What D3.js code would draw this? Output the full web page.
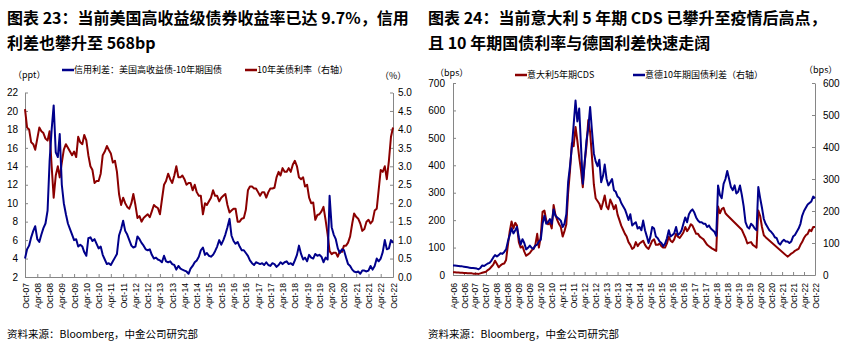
<!DOCTYPE html>
<html><head><meta charset="utf-8">
<script src="https://cdn.jsdelivr.net/npm/d3@7"></script>
<style>
body{margin:0;background:#fff;}
svg{display:block;font-family:"Liberation Sans",Arial,sans-serif;}
.title{font-family:"Noto Sans CJK SC",sans-serif;font-weight:700;font-size:16px;fill:#000;}
.leg{font-family:"Noto Sans CJK SC",sans-serif;font-size:9px;fill:#000;}
.src{font-family:"Noto Sans CJK SC",sans-serif;font-size:10.5px;fill:#000;}
.axis path,.axis line{stroke:#868686;}
.axis text{fill:#000;}
</style></head><body>
<svg id="c" width="853" height="350"></svg>
<script>
// ---------- Chart 23 data (monthly, Oct-07 .. Oct-22) ----------
const usTickLabels = ["Oct-07","Apr-08","Oct-08","Apr-09","Oct-09","Apr-10","Oct-10","Apr-11","Oct-11","Apr-12","Oct-12","Apr-13","Oct-13","Apr-14","Oct-14","Apr-15","Oct-15","Apr-16","Oct-16","Apr-17","Oct-17","Apr-18","Oct-18","Apr-19","Oct-19","Apr-20","Oct-20","Apr-21","Oct-21","Apr-22","Oct-22"];
const usLeftTicks = [2,4,6,8,10,12,14,16,18,20,22];
const usRightTicks = [0,0.5,1,1.5,2,2.5,3,3.5,4,4.5,5];
// credit spread: US HY yield - 10Y UST (ppt), left axis
const usSpread = [4.0,5.0,5.4,
6.3,7.0,7.5,6.1,5.8,6.6,7.3,7.8,9.2,14.5,18.0,20.6,
15.5,15.0,17.5,12.0,10.0,8.8,7.8,7.2,6.6,6.0,6.1,5.3,
5.5,5.3,4.7,4.3,6.2,6.3,5.9,6.1,5.6,5.1,5.3,4.4,
3.9,3.4,3.5,3.3,3.7,4.1,4.5,6.5,7.2,8.1,7.0,6.6,
6.0,5.4,5.2,5.3,6.4,6.1,5.7,5.4,5.0,4.9,5.0,4.4,
4.0,4.1,3.9,3.8,3.6,4.3,3.7,3.6,3.7,3.4,3.3,2.8,
3.2,2.9,2.8,2.7,2.6,2.35,2.9,3.2,3.6,3.8,4.2,4.9,
5.2,4.4,4.6,4.3,4.2,4.4,4.8,5.3,6.0,5.5,6.0,6.6,
7.4,8.3,6.5,5.9,5.6,5.8,5.3,4.9,4.9,4.6,4.3,3.8,
3.5,3.3,3.6,3.5,3.4,3.5,3.3,3.6,3.3,3.2,3.5,3.4,
3.1,3.3,3.6,3.4,3.6,3.7,3.4,3.5,3.3,3.8,4.4,5.4,
4.5,3.9,4.1,3.7,4.4,4.1,4.0,4.5,4.3,4.4,4.2,3.6,
4.1,3.9,10.8,7.4,6.6,6.1,5.1,4.6,5.0,4.9,4.1,3.4,
3.2,2.8,2.6,2.5,2.6,2.35,2.7,2.7,2.6,2.7,3.2,2.8,
3.2,4.0,3.7,4.0,4.7,6.0,5.0,5.1,6.0,5.7];
// 10Y UST yield (%), right axis
const us10y = [4.55,4.05,4.0,
3.65,3.6,3.45,3.75,4.05,3.95,3.9,3.75,3.7,3.95,3.0,2.15,
2.75,3.0,2.7,3.1,3.45,3.6,3.5,3.4,3.3,3.4,3.25,3.8,
3.65,3.6,3.85,3.7,3.3,3.0,2.9,2.55,2.6,2.6,2.8,3.3,
3.4,3.55,3.45,3.35,3.1,3.15,2.85,2.25,1.95,2.15,2.0,1.9,
1.85,2.0,2.25,1.95,1.6,1.65,1.5,1.6,1.65,1.7,1.62,1.78,
1.95,1.9,1.87,1.7,2.1,2.5,2.6,2.8,2.65,2.55,2.75,3.0,
2.7,2.7,2.75,2.65,2.5,2.55,2.55,2.35,2.5,2.3,2.2,2.2,
1.7,2.0,1.95,2.05,2.15,2.35,2.2,2.2,2.05,2.15,2.2,2.25,
1.95,1.75,1.8,1.85,1.85,1.5,1.5,1.58,1.6,1.82,2.35,2.45,
2.45,2.4,2.4,2.3,2.2,2.3,2.3,2.15,2.3,2.4,2.4,2.42,
2.7,2.85,2.75,2.95,2.85,2.85,2.95,2.85,3.05,3.15,3.0,2.7,
2.65,2.7,2.45,2.5,2.15,2.0,2.02,1.55,1.68,1.7,1.78,1.9,
1.55,1.15,0.7,0.62,0.66,0.66,0.55,0.7,0.68,0.85,0.85,0.93,
1.1,1.45,1.72,1.63,1.58,1.45,1.25,1.3,1.5,1.55,1.45,1.52,
1.8,1.85,2.35,2.9,2.85,3.0,2.65,3.15,3.8,4.05];

// ---------- Chart 24 data (monthly, Apr-06 .. Oct-22) ----------
const itTickLabels = ["Apr-06","Oct-06","Apr-07","Oct-07","Apr-08","Oct-08","Apr-09","Oct-09","Apr-10","Oct-10","Apr-11","Oct-11","Apr-12","Oct-12","Apr-13","Oct-13","Apr-14","Oct-14","Apr-15","Oct-15","Apr-16","Oct-16","Apr-17","Oct-17","Apr-18","Oct-18","Apr-19","Oct-19","Apr-20","Oct-20","Apr-21","Oct-21","Apr-22","Oct-22"];
const itLeftTicks = [0,100,200,300,400,500,600,700];
const itRightTicks = [0,100,200,300,400,500,600];
// Italy 5Y CDS (bps), left axis; null = no data (line bridges straight)
const itCds = [10,10,9,9,8,8,7,7,6,
6,6,5,5,5,4,6,8,10,12,18,22,
30,38,52,40,28,35,40,42,55,110,160,195,
170,190,180,120,100,105,85,70,75,80,90,95,
110,150,100,140,230,235,200,185,190,170,255,220,
200,185,175,140,160,185,300,380,480,470,540,490,
430,380,320,410,470,565,520,430,330,280,270,260,
240,265,290,250,240,275,260,240,255,220,200,180,
165,150,140,120,110,95,100,120,105,115,120,125,
110,100,95,110,125,130,110,110,115,105,100,100,
115,140,125,120,130,150,140,135,145,155,175,160,
170,185,180,165,150,150,140,135,130,120,110,105,
100,95,92,88,250,225,240,245,225,218,null,null,
null,null,null,null,null,165,150,135,115,118,120,110,
105,100,235,215,175,145,138,null,null,null,null,null,
null,null,null,null,null,null,67,72,78,82,88,92,
95,110,120,135,145,150,165,160,175,175];
// Italy-Germany 10Y spread (bps), right axis
const itSpread = [30,30,29,28,27,27,26,25,24,
23,22,22,21,20,18,22,30,28,32,36,38,
45,55,62,58,62,68,66,72,80,105,125,146,
130,140,150,118,95,112,100,80,85,92,85,82,
92,95,105,110,160,185,160,165,175,160,205,185,
180,175,170,150,160,190,290,340,400,470,545,480,
520,400,285,350,420,460,525,450,380,355,340,360,
290,310,345,300,280,290,300,265,260,245,240,225,
215,205,190,172,190,155,160,165,145,150,140,170,
140,120,100,120,150,145,120,115,105,100,90,98,
115,140,120,125,130,150,125,130,140,160,180,165,
190,200,205,195,180,170,165,165,160,160,150,155,
145,140,135,122,280,250,240,285,300,325,300,275,
265,280,255,260,280,250,215,165,150,145,160,155,
145,140,275,240,210,175,160,150,140,135,128,118,
115,100,95,105,110,105,105,100,105,120,125,135,
145,160,185,200,210,220,225,230,245,240];

const RED = "#8b0000", BLUE = "#00008b";
const parse = d3.timeParse("%b-%y"), fmt = d3.timeFormat("%b-%y");
const svg = d3.select("#c");

function series(startLabel, vals){
  const s = parse(startLabel);
  return vals.map((v,i)=>({date:d3.timeMonth.offset(s,i), v:v})).filter(d=>d.v!=null);
}

function panel(o){
  const g = svg.append("g");
  const ticks = o.tickLabels.map(parse);
  const x = d3.scaleTime().domain([ticks[0], ticks[ticks.length-1]]).range([o.l,o.r]);
  const yL = d3.scaleLinear().domain(o.yLdom).range([o.b,o.t]);
  const yR = d3.scaleLinear().domain(o.yRdom).range([o.b,o.t]);

  g.append("g").attr("class","axis").attr("transform",`translate(0,${o.b})`)
    .call(d3.axisBottom(x).tickValues(ticks).tickFormat(fmt).tickSize(-3).tickSizeOuter(0))
    .call(a=>a.selectAll("text").attr("transform","rotate(-90)").attr("x",o.xlab).attr("y",0)
      .attr("dy","0.35em").style("text-anchor","end").style("font-size","8.6px"));
  g.append("g").attr("class","axis").attr("transform",`translate(${o.l},0)`)
    .call(d3.axisLeft(yL).tickValues(o.leftTicks).tickFormat(o.lf).tickSize(-3).tickSizeOuter(0).tickPadding(o.lp))
    .call(a=>a.selectAll("text").style("font-size","10px"));
  g.append("g").attr("class","axis").attr("transform",`translate(${o.r},0)`)
    .call(d3.axisRight(yR).tickValues(o.rightTicks).tickFormat(o.rf).tickSize(-3).tickSizeOuter(0).tickPadding(o.rp))
    .call(a=>a.selectAll("text").style("font-size","10px"));

  const lineL = d3.line().x(d=>x(d.date)).y(d=>yL(d.v));
  const lineR = d3.line().x(d=>x(d.date)).y(d=>yR(d.v));
  o.lines.forEach(s=>{
    g.append("path").datum(series(o.tickLabels[0], s.vals)).attr("fill","none")
      .attr("stroke",s.color).attr("stroke-width",2).attr("stroke-linejoin","round")
      .attr("d", s.axis==="L"?lineL:lineR);
  });

  o.title.forEach((t,i)=>g.append("text").attr("class","title").attr("x",o.tx).attr("y",24+i*25).text(t));
  g.append("text").attr("class","leg").attr("x",o.uL[0]).attr("y",o.uL[1]).attr("dy","0.35em").text(o.uL[2]);
  g.append("text").attr("class","leg").attr("x",o.uR[0]).attr("y",o.uR[1]).attr("dy","0.35em").text(o.uR[2]);
  o.legend.forEach(l=>{
    g.append("line").attr("x1",l.x).attr("x2",l.x+12).attr("y1",l.y).attr("y2",l.y)
      .attr("stroke",l.color).attr("stroke-width",2.5);
    g.append("text").attr("class","leg").attr("x",l.x+12).attr("y",l.y).attr("dy","0.35em").text(l.text);
  });
  g.append("text").attr("class","src").attr("x",o.tx).attr("y",338).text("资料来源：Bloomberg，中金公司研究部");
}

panel({
  l:25, r:393, t:92.5, b:277, xlab:-6, lp:7, rp:5,
  tickLabels:usTickLabels, yLdom:[2,22], yRdom:[0,5],
  leftTicks:usLeftTicks, rightTicks:usRightTicks,
  lf:d3.format("d"), rf:d3.format(".1f"),
  lines:[{vals:us10y,color:RED,axis:"R"},{vals:usSpread,color:BLUE,axis:"L"}],
  title:["图表 23：当前美国高收益级债券收益率已达 9.7%，信用","利差也攀升至 568bp"], tx:7,
  uL:[13,75,"（ppt）"], uR:[380,76,"（%）"],
  legend:[{x:62,y:70,color:BLUE,text:"信用利差：美国高收益债-10年期国债"},
          {x:245,y:70,color:RED,text:"10年美债利率（右轴）"}]
});
panel({
  l:453, r:815, t:83, b:275, xlab:-8, lp:8, rp:8,
  tickLabels:itTickLabels, yLdom:[0,700], yRdom:[0,600],
  leftTicks:itLeftTicks, rightTicks:itRightTicks,
  lf:d3.format("d"), rf:d3.format("d"),
  lines:[{vals:itCds,color:RED,axis:"L"},{vals:itSpread,color:BLUE,axis:"R"}],
  title:["图表 24：当前意大利 5 年期 CDS 已攀升至疫情后高点，","且 10 年期国债利率与德国利差快速走阔"], tx:428,
  uL:[435,73,"（bps）"], uR:[804,70,"（bps）"],
  legend:[{x:515,y:75,color:RED,text:"意大利5年期CDS"},
          {x:633,y:75,color:BLUE,text:"意德10年期国债利差（右轴）"}]
});
</script>
</body></html>
